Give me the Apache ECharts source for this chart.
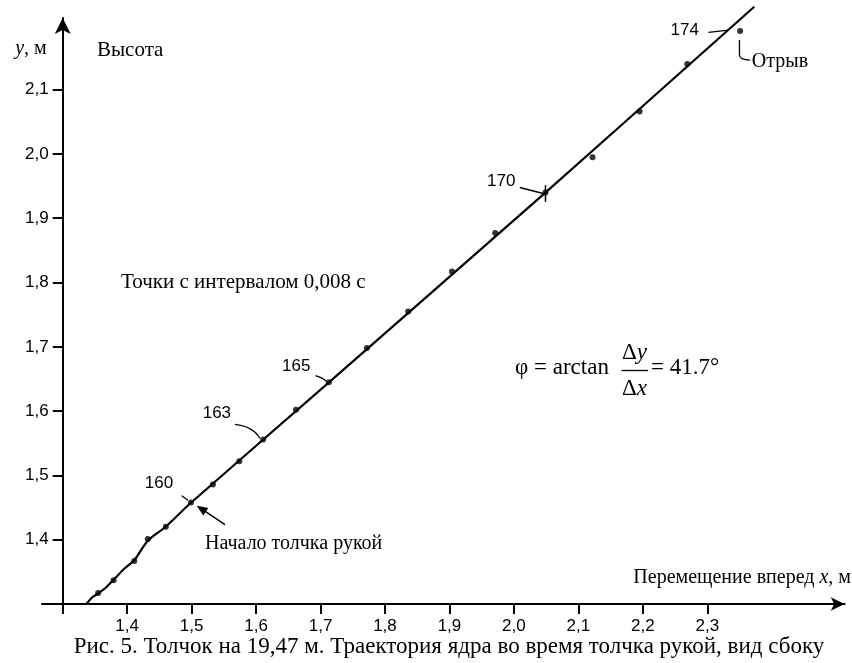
<!DOCTYPE html>
<html><head><meta charset="utf-8">
<script src="https://cdn.jsdelivr.net/npm/echarts@6/dist/echarts.min.js"></script>
<style>html,body{margin:0;padding:0;background:#fff}#c{width:852px;height:663px}</style>
</head><body><div id="c"></div>
<script>
// ---- data ----
const xTickValues = [1.3, 1.4, 1.5, 1.6, 1.7, 1.8, 1.9, 2.0, 2.1, 2.2, 2.3];
const xLabelValues = [1.4, 1.5, 1.6, 1.7, 1.8, 1.9, 2.0, 2.1, 2.2, 2.3];
const yLabelValues = [1.4, 1.5, 1.6, 1.7, 1.8, 1.9, 2.0, 2.1];
// measured points, every 0.008 s (frame numbers 155..174)
const pointIds = [155,156,157,158,159,160,161,162,163,164,165,166,167,168,169,170,171,172,173,174];
const pointX = [1.355,1.379,1.411,1.432,1.460,1.499,1.533,1.574,1.611,1.662,1.713,1.772,1.836,1.904,1.971,2.049,2.122,2.195,2.269,2.351];
const pointY = [1.317,1.337,1.367,1.401,1.420,1.458,1.486,1.522,1.556,1.602,1.645,1.698,1.755,1.817,1.877,1.940,1.995,2.066,2.140,2.191];
// drawn trajectory curve
const curveX = [1.337,1.3455,1.3552,1.3672,1.3785,1.3951,1.4111,1.4319,1.4598,1.499,1.7131,2.0493,2.3729];
const curveY = [1.300,1.3101,1.3166,1.3257,1.3373,1.3544,1.3684,1.3980,1.4202,1.4575,1.6448,1.9403,2.2289];
const markIds = [160, 163, 165, 170, 174];

const SERIF = '"Liberation Serif","Times New Roman",serif';
const SANS = '"Liberation Sans",Arial,sans-serif';
const fmt = v => (Math.round(v * 10) / 10).toFixed(1).replace('.', ',');

const chart = echarts.init(document.getElementById('c'), null, {renderer: 'canvas'});
const option = {
  backgroundColor: '#fff',
  animation: false,
  grid: {left: 42, right: 7.3, top: 18, bottom: 59, containLabel: false},
  xAxis: {
    type: 'value', min: 1.2679, max: 2.5132,
    axisLine: {show: true, onZero: false, symbol: ['none', 'arrow'], symbolSize: [10, 14],
      lineStyle: {color: '#000', width: 2}},
    axisTick: {show: true, length: 10, inside: false, customValues: xTickValues,
      lineStyle: {color: '#000', width: 2}},
    axisLabel: {show: true, margin: 14, customValues: xLabelValues, formatter: fmt,
      color: '#000', fontFamily: SANS, fontSize: 17},
    splitLine: {show: false}
  },
  yAxis: {
    type: 'value', min: 1.3, max: 2.2114, position: 'left', offset: -20.7,
    axisLine: {show: true, onZero: false, symbol: ['none', 'arrow'], symbolSize: [12, 16],
      lineStyle: {color: '#000', width: 2}},
    axisTick: {show: true, length: 10, inside: false, customValues: yLabelValues,
      lineStyle: {color: '#000', width: 2}},
    axisLabel: {show: true, margin: 14, customValues: yLabelValues, formatter: fmt,
      color: '#000', fontFamily: SANS, fontSize: 17},
    splitLine: {show: false}
  },
  series: [
    {
      type: 'line', data: curveX.map((x, i) => [x, curveY[i]]),
      smooth: 0.35, showSymbol: false, clip: false, z: 3,
      lineStyle: {color: '#000', width: 2.2}
    },
    {
      type: 'scatter', data: pointX.map((x, i) => [x, pointY[i]]),
      symbol: 'circle', symbolSize: 6, clip: false, z: 4,
      itemStyle: {color: '#000'}
    }
  ]
};
chart.setOption(option);

// ---- annotations placed relative to data points ----
const px = id => {
  const i = pointIds.indexOf(id);
  return chart.convertToPixel({gridIndex: 0}, [pointX[i], pointY[i]]);
};
const stroke = {stroke: '#000', lineWidth: 1.3, fill: null};
const g = [];
function txt(x, y, s, font, size, align, extra) {
  g.push(Object.assign({type: 'text', x: x, y: y, z: 10,
    style: {text: s, fontFamily: font, fontSize: size, fill: '#000',
      textAlign: align || 'left', textVerticalAlign: 'middle'}}, extra || {}));
}
function line(x1, y1, x2, y2, w) {
  g.push({type: 'line', z: 10, shape: {x1, y1, x2, y2}, style: {stroke: '#000', lineWidth: w || 1.3}});
}
function quad(x1, y1, cx, cy, x2, y2) {
  g.push({type: 'bezierCurve', z: 10, shape: {x1, y1, x2, y2, cpx1: cx, cpy1: cy}, style: stroke});
}

const p160 = px(160), p163 = px(163), p165 = px(165), p170 = px(170), p174 = px(174);
// 160
txt(p160[0] - 32, p160[1] - 19.4, '160', SANS, 17, 'center');
line(p160[0] - 9.3, p160[1] - 6.7, p160[0] - 3, p160[1] - 2.2);
// arrow "Начало толчка рукой"
(function () {
  const tx = p160[0] + 34, ty = p160[1] + 22.3, hx = p160[0] + 5.7, hy = p160[1] + 3.3;
  const dx = hx - tx, dy = hy - ty, L = Math.hypot(dx, dy), ux = dx / L, uy = dy / L;
  const bx = hx - ux * 11, by = hy - uy * 11;
  line(tx, ty, bx + ux * 2, by + uy * 2, 1.5);
  g.push({type: 'polygon', z: 10, shape: {points: [[hx, hy], [bx - uy * 4.5, by + ux * 4.5], [bx + uy * 4.5, by - ux * 4.5]]},
    style: {fill: '#000'}});
})();
txt(205, 544, 'Начало толчка рукой', SERIF, 20, 'left');
// 163
txt(p163[0] - 46.3, p163[1] - 26, '163', SANS, 17, 'center');
quad(p163[0] - 28.3, p163[1] - 15, p163[0] - 10, p163[1] - 13, p163[0] - 3.3, p163[1] - 1);
// 165
txt(p165[0] - 32.7, p165[1] - 15.6, '165', SANS, 17, 'center');
quad(p165[0] - 13.3, p165[1] - 6.6, p165[0] - 6, p165[1] - 4.5, p165[0] - 2.3, p165[1] - 0.6);
// 170
txt(p170[0] - 44.2, p170[1] - 11.6, '170', SANS, 17, 'center');
line(p170[0] - 25.7, p170[1] - 5, p170[0] - 2.4, p170[1] + 1);
line(p170[0], p170[1] - 7.3, p170[0], p170[1] + 9.4, 1.5);
// 174 and Отрыв
txt(p174[0] - 55.5, p174[1] - 1, '174', SANS, 17, 'center');
line(p174[0] - 31.7, p174[1] + 1.3, p174[0] - 11.7, p174[1] - 1);
line(p174[0] - 0.7, p174[1] + 9, p174[0] - 0.7, p174[1] + 24);
quad(p174[0] - 0.7, p174[1] + 24, p174[0] - 0.7, p174[1] + 29, p174[0] + 10, p174[1] + 29);
txt(p174[0] + 11.7, p174[1] + 31, 'Отрыв', SERIF, 20, 'left');

// axis names and notes
g.push({type: 'text', x: 46.7, y: 48.3, z: 10, style: {
  text: '{i|y}, м', textAlign: 'right', textVerticalAlign: 'middle',
  fontFamily: SERIF, fontSize: 20, fill: '#000',
  rich: {i: {fontFamily: SERIF, fontStyle: 'italic', fontSize: 20, fill: '#000'}}}});
txt(97, 50, 'Высота', SERIF, 21, 'left');
txt(121, 282.3, 'Точки с интервалом 0,008 с', SERIF, 21, 'left');
g.push({type: 'text', x: 851, y: 577.6, z: 10, style: {
  text: 'Перемещение вперед {i|x}, м', textAlign: 'right', textVerticalAlign: 'middle',
  fontFamily: SERIF, fontSize: 20, fill: '#000',
  rich: {i: {fontFamily: SERIF, fontStyle: 'italic', fontSize: 20, fill: '#000'}}}});
// formula
txt(515, 368, 'φ = arctan', SERIF, 23, 'left');
txt(634.5, 353, '{n|Δ}{i|y}', SERIF, 23, 'center', {style: {text: '{n|Δ}{i|y}', textAlign: 'center', textVerticalAlign: 'middle',
  rich: {n: {fontFamily: SERIF, fontSize: 23, fill: '#000'}, i: {fontFamily: SERIF, fontSize: 23, fontStyle: 'italic', fill: '#000'}}}});
txt(634.5, 388.5, '{n|Δ}{i|x}', SERIF, 23, 'center', {style: {text: '{n|Δ}{i|x}', textAlign: 'center', textVerticalAlign: 'middle',
  rich: {n: {fontFamily: SERIF, fontSize: 23, fill: '#000'}, i: {fontFamily: SERIF, fontSize: 23, fontStyle: 'italic', fill: '#000'}}}});
line(621.5, 370.5, 648, 370.5, 1.3);
txt(651, 368, '= 41.7°', SERIF, 23, 'left');
// caption
txt(449, 647, 'Рис. 5. Толчок на 19,47 м. Траектория ядра во время толчка рукой, вид сбоку', SERIF, 23, 'center');

chart.setOption({graphic: g});
</script>
</body></html>
